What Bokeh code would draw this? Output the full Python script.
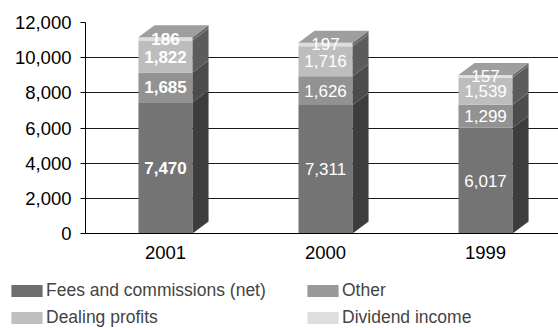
import numpy as np
from bokeh.plotting import figure
from bokeh.layouts import column
from bokeh.models import Legend, LegendItem, NumeralTickFormatter, FixedTicker, ColumnDataSource
from bokeh.embed import file_html
from bokeh.resources import INLINE
from bokeh.core.properties import value

# ---- data ----
years = ["2001", "2000", "1999"]
fees = [7470, 7311, 6017]
other = [1685, 1626, 1299]
dealing = [1822, 1716, 1539]
dividend = [186, 197, 157]
series_names = ["Fees and commissions (net)", "Other", "Dealing profits", "Dividend income"]
y_ticks = [0, 2000, 4000, 6000, 8000, 10000, 12000]
bold_year = "2001"

# ---- styles ----
front_colors = ["#747474", "#929292", "#bdbdbd", "#dedede"]
legend_colors = ["#6e6e6e", "#999999", "#bfbfbf", "#dedede"]
side_colors = ["#3d3d3d", "#4c4c4c", "#5c5c5c", "#6c6c6c"]
top_color = "#9e9e9e"
FONT = "Liberation Sans"
half_w = 0.169      # half bar width in category units
depth_x = 0.1       # 3D depth in category units
depth_y = 684       # 3D depth in value units

MAIN_H = 266
p = figure(width=558, height=MAIN_H, x_range=(-0.5, 2.456), y_range=(0, 12000),
           output_backend="svg", toolbar_location=None,
           min_border_left=85, min_border_right=0, min_border_top=22,
           min_border_bottom=MAIN_H - 233)
p.frame_align = False
p.outline_line_color = None
p.xgrid.grid_line_color = None
p.ygrid.grid_line_color = "#1a1a1a"
p.ygrid.grid_line_width = 1

xs = np.arange(len(years), dtype=float)
series = [np.array(fees), np.array(other), np.array(dealing), np.array(dividend)]
bottom = np.zeros(len(years))
lab_x, lab_y, lab_t, lab_s = [], [], [], []
for k, vals in enumerate(series):
    top = bottom + vals
    p.quad(left=xs - half_w, right=xs + half_w, bottom=bottom, top=top,
           fill_color=front_colors[k], line_color=None)
    side_xs = [[x + half_w, x + half_w + depth_x, x + half_w + depth_x, x + half_w] for x in xs]
    side_ys = [[b, b + depth_y, t + depth_y, t] for b, t in zip(bottom, top)]
    p.patches(side_xs, side_ys, fill_color=side_colors[k], line_color=None)
    for i, x in enumerate(xs):
        lab_x.append(x)
        lab_y.append(bottom[i] + vals[i] / 2)
        lab_t.append(f"{int(vals[i]):,}")
        lab_s.append("bold" if years[i] == bold_year else "normal")
    bottom = top

# top faces
top_xs = [[x - half_w, x - half_w + depth_x, x + half_w + depth_x, x + half_w] for x in xs]
top_ys = [[t, t + depth_y, t + depth_y, t] for t in bottom]
p.patches(top_xs, top_ys, fill_color=top_color, line_color=None)

src = ColumnDataSource(dict(x=lab_x, y=lab_y, t=lab_t, s=lab_s))
p.text(x="x", y="y", text="t", source=src, text_color="white", text_align="center",
       text_baseline="middle", text_font=value(FONT), text_font_size="17px",
       text_font_style="s")

# axes
p.yaxis.ticker = FixedTicker(ticks=y_ticks)
p.yaxis.formatter = NumeralTickFormatter(format="0,0")
p.yaxis.major_label_text_font = FONT
p.yaxis.major_label_text_font_size = "18.5px"
p.yaxis.major_label_text_color = "black"
p.yaxis.major_tick_out = 5
p.yaxis.major_tick_in = 0
p.yaxis.minor_tick_line_color = None
p.yaxis.major_label_standoff = 9
p.yaxis.axis_line_color = "black"
p.yaxis.major_tick_line_color = "black"

p.xaxis.ticker = FixedTicker(ticks=list(xs))
p.xaxis.major_label_overrides = {float(x): y for x, y in zip(xs, years)}
p.xaxis.major_label_text_font = FONT
p.xaxis.major_label_text_font_size = "18.5px"
p.xaxis.major_label_text_color = "black"
p.xaxis.major_tick_line_color = None
p.xaxis.minor_tick_line_color = None
p.xaxis.major_label_standoff = 6
p.xaxis.axis_line_color = "black"

# ---- legend panel ----
LEG_H = 328 - MAIN_H
lf = figure(width=558, height=LEG_H, x_range=(0, 1), y_range=(0, 1),
            output_backend="svg", toolbar_location=None,
            x_axis_type=None, y_axis_type=None,
            min_border_left=0, min_border_right=0, min_border_top=0, min_border_bottom=0)
lf.frame_align = False
lf.outline_line_color = None
lf.xgrid.grid_line_color = None
lf.ygrid.grid_line_color = None
nan = [np.nan]
leg_renderers = [lf.quad(left=nan, right=nan, bottom=nan, top=nan, fill_color=c, line_color=None)
                 for c in legend_colors]
legend = Legend(items=[LegendItem(label=n, renderers=[r]) for n, r in zip(series_names, leg_renderers)],
                location=(7, 0), orientation="horizontal", ncols=2,
                glyph_width=39, glyph_height=15, label_standoff=0, label_width=251,
                label_height=20, spacing=6, padding=0, margin=0,
                border_line_color=None, background_fill_alpha=0,
                label_text_font=FONT, label_text_font_size="17.5px")
lf.add_layout(legend)

open("out.html", "w").write(file_html(column(p, lf, spacing=0), INLINE))
